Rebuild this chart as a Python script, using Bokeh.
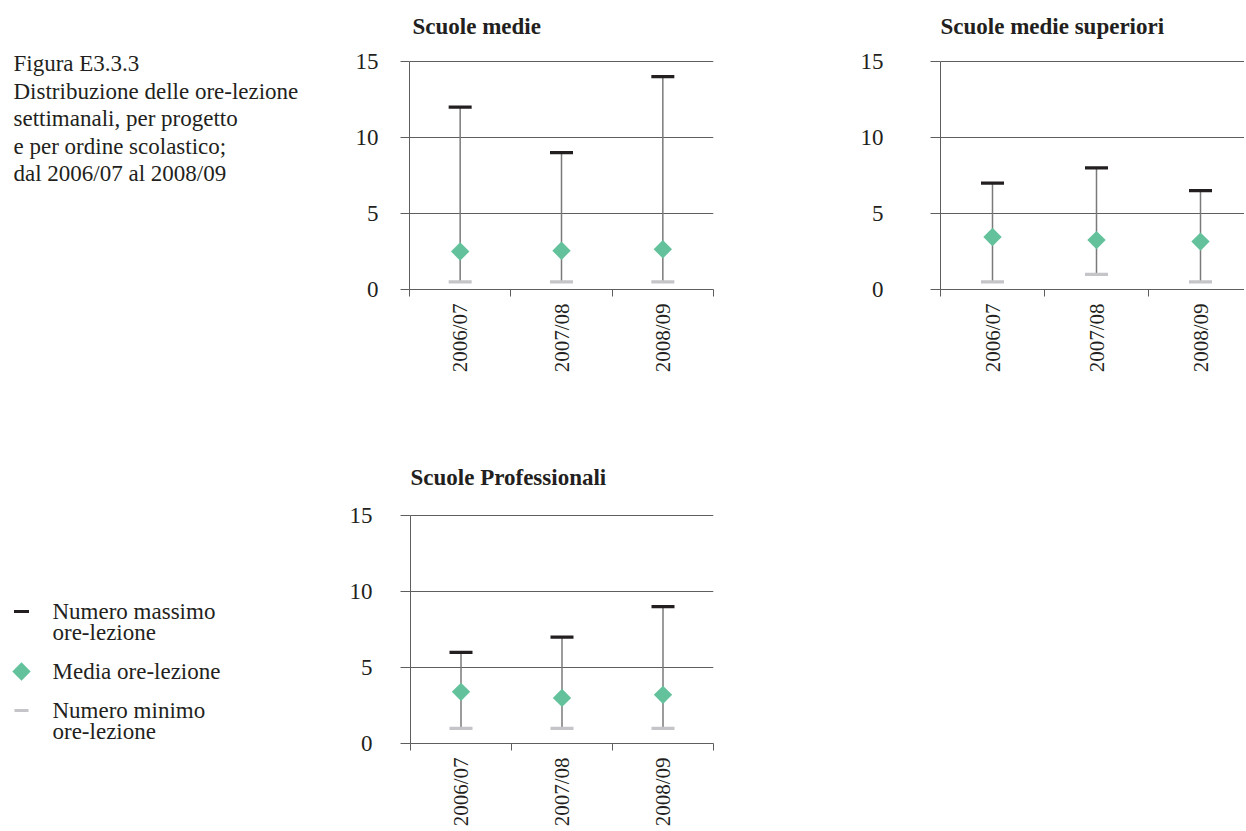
import numpy as np
from bokeh.plotting import figure
from bokeh.models import Range1d, FixedTicker, ColumnDataSource
from bokeh.layouts import row, column
from bokeh.embed import file_html
from bokeh.resources import INLINE
from bokeh.core.properties import value

# ---------------- data ----------------
categories = ["2006/07", "2007/08", "2008/09"]
panel_titles = ["Scuole medie", "Scuole medie superiori", "Scuole Professionali"]

max_medie = [12, 9, 14]
mean_medie = [2.5, 2.55, 2.65]
min_medie = [0.5, 0.5, 0.5]

max_sup = [7, 8, 6.5]
mean_sup = [3.45, 3.25, 3.15]
min_sup = [0.5, 1.0, 0.5]

max_prof = [6, 7, 9]
mean_prof = [3.4, 3.0, 3.2]
min_prof = [1, 1, 1]

y_ticks = [0, 5, 10, 15]

caption_lines = [
    "Figura E3.3.3",
    "Distribuzione delle ore-lezione",
    "settimanali, per progetto",
    "e per ordine scolastico;",
    "dal 2006/07 al 2008/09",
]
legend_labels = [
    ["Numero massimo", "ore-lezione"],
    ["Media ore-lezione"],
    ["Numero minimo", "ore-lezione"],
]

# ---------------- style ----------------
FONT = "Liberation Serif"
FS = "23px"
FS_X = "21px"
TXT = "#231f20"
AX = "#5e5e5e"
GREEN = "#63c29b"
MAXC = "#231f20"
MINC = "#c4c4c9"
WHISK = "#7a7a7a"
TEXT_DY = -7          # baseline correction for text glyphs (px, screen)

ROW1_H = 454
ROW2_H = 376
LEFT_W = 338
MBT = 8               # frame starts 8px below each row top (titles live inside)
FRAME_H = 281         # frame height; value axis 0..15 occupies the lowest 228px
PPU = 228 / 15        # pixels per unit on the value axis
Y_END = FRAME_H / PPU
BOT1 = ROW1_H - MBT - FRAME_H
BOT2 = ROW2_H - MBT - FRAME_H


def panel(title, maxs, means, mins, width, height, mbl, mbr, mbb,
          x_end, y_standoff, y_tick_out, title_dx, title_rise):
    p = figure(width=width, height=height, output_backend="svg",
               toolbar_location=None,
               x_range=Range1d(0, x_end), y_range=Range1d(0, Y_END),
               min_border_left=mbl, min_border_right=mbr,
               min_border_top=MBT, min_border_bottom=mbb)
    p.outline_line_color = None
    p.background_fill_color = "white"
    p.border_fill_color = "white"

    xs = [i + 0.5 for i in range(len(categories))]

    # x axis
    xa = p.xaxis[0]
    xa.ticker = FixedTicker(ticks=xs, minor_ticks=list(range(len(categories) + 1)))
    xa.major_label_overrides = {x: c for x, c in zip(xs, categories)}
    xa.major_tick_out = 0
    xa.major_tick_in = 0
    xa.minor_tick_out = 7
    xa.minor_tick_in = 0
    xa.minor_tick_line_color = AX
    xa.axis_line_color = AX
    xa.major_label_orientation = np.pi / 2
    xa.major_label_standoff = 7
    xa.major_label_text_font = FONT
    xa.major_label_text_font_size = FS_X
    xa.major_label_text_color = TXT

    # y axis
    ya = p.yaxis[0]
    ya.ticker = FixedTicker(ticks=y_ticks, minor_ticks=[])
    ya.bounds = (y_ticks[0], y_ticks[-1])
    ya.major_tick_out = y_tick_out
    ya.major_tick_in = 0
    ya.major_tick_line_color = AX
    ya.minor_tick_line_color = None
    ya.axis_line_color = AX
    ya.major_label_standoff = y_standoff
    ya.major_label_text_font = FONT
    ya.major_label_text_font_size = FS
    ya.major_label_text_color = TXT

    p.xgrid.visible = False
    p.ygrid.grid_line_color = AX
    p.ygrid.grid_line_width = 1

    # panel title, anchored at the top-left corner of the value axis
    p.text(x=[0], y=[y_ticks[-1]], text=[title], text_font=value(FONT),
           text_font_size=value(FS), text_font_style="bold", text_color=TXT,
           text_align="left", text_baseline="alphabetic",
           x_offset=title_dx, y_offset=-title_rise + TEXT_DY)

    src = ColumnDataSource(dict(x=xs, mx=maxs, mean=means, mn=mins))
    p.segment(x0="x", y0="mn", x1="x", y1="mx", source=src,
              line_color=WHISK, line_width=1.5)
    p.scatter("x", "mn", marker="dash", size=23, line_width=3.2,
              line_color=MINC, source=src)
    p.scatter("x", "mx", marker="dash", size=23, line_width=3.2,
              line_color=MAXC, source=src)
    p.scatter("x", "mean", marker="square", angle=np.pi / 4, size=13,
              fill_color=GREEN, line_color=None, source=src)
    return p


def blank(width, height, mbb, y_top, y_bottom):
    # y range expressed in page pixels (flipped) for easy text placement
    p = figure(width=width, height=height, output_backend="svg",
               toolbar_location=None, x_axis_type=None, y_axis_type=None,
               x_range=Range1d(0, width), y_range=Range1d(y_bottom, y_top),
               min_border_left=0, min_border_right=0,
               min_border_top=MBT, min_border_bottom=mbb)
    p.outline_line_color = None
    p.grid.visible = False
    return p


def put_text(p, xs, ys, texts):
    p.text(x=xs, y=ys, text=texts, text_font=value(FONT),
           text_font_size=value(FS), text_color=TXT, text_align="left",
           text_baseline="alphabetic", y_offset=TEXT_DY)


# caption block (page coordinates)
cap = blank(LEFT_W, ROW1_H, BOT1, MBT, MBT + FRAME_H)
put_text(cap, [13] * len(caption_lines),
         [70 + 27.5 * i for i in range(len(caption_lines))], caption_lines)

# legend block (page coordinates)
y2_top = ROW1_H + MBT
leg = blank(LEFT_W, ROW2_H, BOT2, y2_top, y2_top + FRAME_H)
ty, tt, sw_y = [], [], []
yb = 618
for lines in legend_labels:
    sw_y.append(yb - 7)
    for j, ln in enumerate(lines):
        tt.append(ln)
        ty.append(yb + 21 * j)
    yb += 21 * len(lines) + 18
put_text(leg, [52] * len(tt), ty, tt)
leg.scatter(x=[21], y=[sw_y[0]], marker="dash", size=15, line_width=3,
            line_color=MAXC)
leg.scatter(x=[21], y=[sw_y[1]], marker="square", angle=np.pi / 4, size=13,
            fill_color=GREEN, line_color=None)
leg.scatter(x=[21], y=[sw_y[2]], marker="dash", size=14, line_width=3,
            line_color=MINC)

p1 = panel(panel_titles[0], max_medie, mean_medie, min_medie,
           width=518, height=ROW1_H, mbl=71, mbr=143, mbb=BOT1,
           x_end=3, y_standoff=22, y_tick_out=9, title_dx=3, title_rise=28)
p2 = panel(panel_titles[1], max_sup, mean_sup, min_sup,
           width=388, height=ROW1_H, mbl=84, mbr=0, mbb=BOT1,
           x_end=304 / 104, y_standoff=47, y_tick_out=10, title_dx=0, title_rise=28)
p3 = panel(panel_titles[2], max_prof, mean_prof, min_prof,
           width=518, height=ROW2_H, mbl=72, mbr=143, mbb=BOT2,
           x_end=3, y_standoff=28, y_tick_out=10, title_dx=0, title_rise=31)

layout = column(row(cap, p1, p2), row(leg, p3))

open("out.html", "w").write(file_html(layout, INLINE))
